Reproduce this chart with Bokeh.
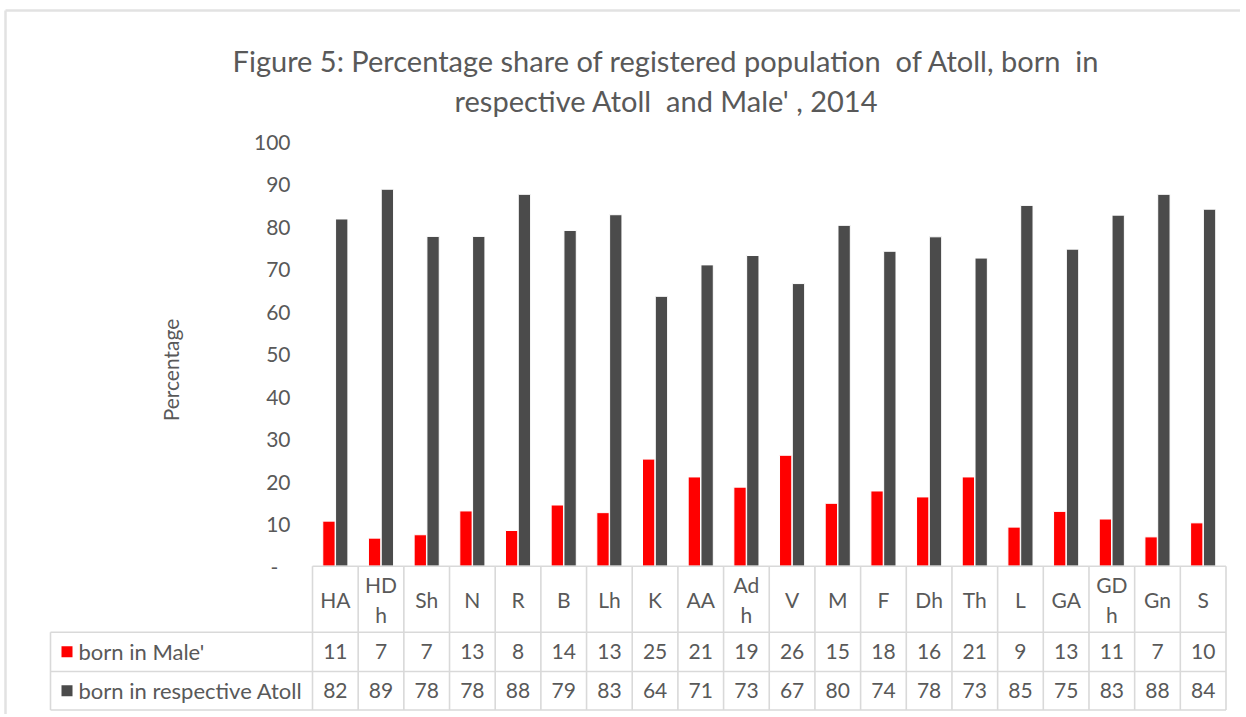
from bokeh.plotting import figure
from bokeh.models import Range1d, FixedTicker, ColumnDataSource, LinearAxis
from bokeh.transform import dodge
from bokeh.embed import file_html
from bokeh.resources import INLINE
from bokeh.core.properties import value

# ---------------- data ----------------
atolls = ["HA", "HDh", "Sh", "N", "R", "B", "Lh", "K", "AA", "Adh",
          "V", "M", "F", "Dh", "Th", "L", "GA", "GDh", "Gn", "S"]
atoll_labels = ["HA", "HD\nh", "Sh", "N", "R", "B", "Lh", "K", "AA", "Ad\nh",
                "V", "M", "F", "Dh", "Th", "L", "GA", "GD\nh", "Gn", "S"]
born_male = [10.6, 6.6, 7.4, 13.0, 8.4, 14.4, 12.6, 25.2, 21.0, 18.6,
             26.1, 14.8, 17.7, 16.3, 21.0, 9.2, 12.9, 11.1, 6.9, 10.2]
born_atoll = [81.7, 88.7, 77.6, 77.6, 87.5, 79.0, 82.7, 63.5, 70.9, 73.1,
              66.5, 80.2, 74.1, 77.5, 72.5, 84.9, 74.6, 82.6, 87.5, 84.0]
table_male = [11, 7, 7, 13, 8, 14, 13, 25, 21, 19, 26, 15, 18, 16, 21, 9, 13, 11, 7, 10]
table_atoll = [82, 89, 78, 78, 88, 79, 83, 64, 71, 73, 67, 80, 74, 78, 73, 85, 75, 83, 88, 84]
series_names = ["born in Male'", "born in respective Atoll"]
y_ticks = [0, 10, 20, 30, 40, 50, 60, 70, 80, 90, 100]
title_lines = ["Figure 5: Percentage share of registered population\u00a0 of Atoll, born\u00a0 in",
               "respective Atoll\u00a0 and Male' , 2014"]
y_title = "Percentage"

# ---------------- styles / layout ----------------
RED = "#ff0000"
DARK = "#4b4b4b"
TXT = "#595959"
GRIDC = "#d9d9d9"
BORDERC = "#e2e2e2"
FONT = "Lato"

W, H = 1240, 714
PLOT_L, PLOT_R = 312.0, 1225.5     # pixel extent of the category area
PLOT_T, PLOT_B = 140.7, 565.7      # pixel positions of 100 and 0
n = len(atolls)
CW = (PLOT_R - PLOT_L) / n
PPU = (PLOT_B - PLOT_T) / 100.0


def px2x(px):
    return (px - PLOT_L) / CW


def py2y(py):
    return (PLOT_B - py) / PPU


p = figure(x_range=Range1d(px2x(0), px2x(W)), y_range=Range1d(py2y(H), py2y(0)),
           width=W, height=H, min_border=0, output_backend="svg", toolbar_location=None,
           x_axis_location=None, y_axis_location=None,
           background_fill_color="white", border_fill_color="white")
p.outline_line_color = None
p.grid.visible = False

# chart border (top / left edges)
p.segment(x0=[px2x(5), px2x(5)], y0=[py2y(10), py2y(10)], x1=[px2x(5), px2x(W)],
          y1=[py2y(H), py2y(10)], line_color=BORDERC, line_width=2.5)

# bars
idx = [i + 0.5 for i in range(n)]
src = ColumnDataSource(dict(idx=idx, atoll=atolls, male=born_male, atoll_pct=born_atoll))
p.vbar(x=dodge("idx", -0.14), top="male", bottom=0, width=0.27,
       fill_color=RED, line_color="white", line_width=1, source=src)
p.vbar(x=dodge("idx", 0.14), top="atoll_pct", bottom=0, width=0.27,
       fill_color=DARK, line_color="white", line_width=1, source=src)

# y axis at the left edge of the category area
ya = LinearAxis(fixed_location=0.0, ticker=FixedTicker(ticks=y_ticks),
                bounds=(-7.5, 100))
ya.major_label_overrides = {0: "-\u2007"}
ya.axis_line_color = None
ya.major_tick_line_color = None
ya.minor_tick_line_color = None
ya.major_tick_out = 0
ya.major_tick_in = 0
ya.major_label_standoff = 22
ya.major_label_text_font = FONT
ya.major_label_text_font_size = "21px"
ya.major_label_text_color = TXT
ya.axis_label = y_title
ya.axis_label_text_font = FONT
ya.axis_label_text_font_size = "21px"
ya.axis_label_text_font_style = "normal"
ya.axis_label_text_color = TXT
ya.axis_label_standoff = 68
p.add_layout(ya, "left")

# title
p.text(x=[px2x(666)] * 2, y=[py2y(60), py2y(100)], text=title_lines,
       text_align="center", text_baseline="middle", text_font=value(FONT),
       text_font_size="29px", text_color=TXT)

# ---------------- data table ----------------
row_top, row1, row2, row3 = py2y(565.7), py2y(631.7), py2y(671.0), py2y(709.5)
leg_left = px2x(50)
# horizontal lines
p.segment(x0=[0, leg_left, leg_left, leg_left], y0=[row_top, row1, row2, row3],
          x1=[n] * 4, y1=[row_top, row1, row2, row3], line_color=GRIDC, line_width=1.6)
# vertical lines
xs = list(range(n + 1))
p.segment(x0=xs, y0=[row_top] * len(xs), x1=xs, y1=[row3] * len(xs),
          line_color=GRIDC, line_width=1.6)
p.segment(x0=[leg_left], y0=[row1], x1=[leg_left], y1=[row3],
          line_color=GRIDC, line_width=1.6)

rc = [(row_top + row1) / 2, (row1 + row2) / 2, (row2 + row3) / 2]
p.text(x=idx, y=[rc[0]] * n, text=atoll_labels, text_align="center",
       text_baseline="middle", text_font=value(FONT), text_font_size="21px",
       text_color=TXT, text_line_height=1.2)
p.text(x=idx, y=[rc[1]] * n, text=[str(v) for v in table_male], text_align="center",
       text_baseline="middle", text_font=value(FONT), text_font_size="21px", text_color=TXT)
p.text(x=idx, y=[rc[2]] * n, text=[str(v) for v in table_atoll], text_align="center",
       text_baseline="middle", text_font=value(FONT), text_font_size="21px", text_color=TXT)

p.scatter(x=[px2x(66.5)] * 2, y=rc[1:], marker="square", size=11,
          fill_color=[RED, DARK], line_color=None)
p.text(x=[px2x(78)] * 2, y=rc[1:], text=series_names, text_align="left",
       text_baseline="middle", text_font=value(FONT), text_font_size="22px", text_color=TXT)

open("out.html", "w").write(file_html(p, INLINE))
